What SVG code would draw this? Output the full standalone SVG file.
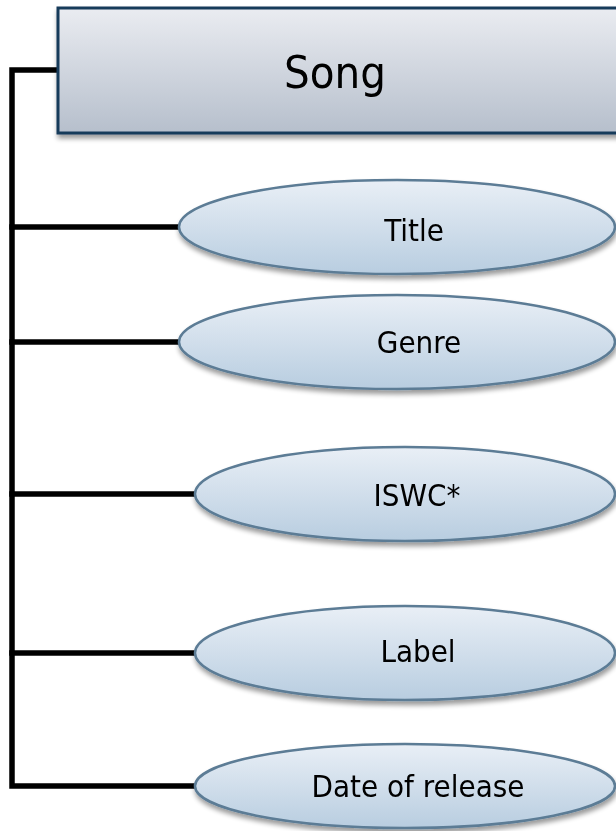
<svg xmlns="http://www.w3.org/2000/svg" width="616" height="831" viewBox="0 0 616 831">
  <defs>
    <linearGradient id="boxFill" x1="0" y1="0" x2="0" y2="1">
      <stop offset="0" stop-color="#eaecf1"/>
      <stop offset="1" stop-color="#b6bfcc"/>
    </linearGradient>
    <linearGradient id="attrFill" x1="0" y1="0" x2="0" y2="1">
      <stop offset="0" stop-color="#e9eff6"/>
      <stop offset="1" stop-color="#b8cde0"/>
    </linearGradient>
    <filter id="shadow" x="-10%" y="-20%" width="120%" height="150%">
      <feGaussianBlur in="SourceAlpha" stdDeviation="2.5"/>
      <feOffset dx="1" dy="4" result="b"/>
      <feComponentTransfer><feFuncA type="linear" slope="0.4"/></feComponentTransfer>
      <feMerge><feMergeNode/><feMergeNode in="SourceGraphic"/></feMerge>
    </filter>
  </defs>
  <style>
    .entity { fill: url(#boxFill); stroke: #183b5a; stroke-width: 3; }
    .attr { fill: url(#attrFill); stroke: #5b7b95; stroke-width: 2.5; }
    .link { fill: none; stroke: #000; stroke-width: 5.5; stroke-linecap: square; }
    text { font-family: "DejaVu Sans Condensed", "DejaVu Sans", sans-serif; font-stretch: condensed; fill: #000; text-anchor: middle; dominant-baseline: central; }
    .big { font-size: 45px; }
    .lbl { font-size: 31px; }
  </style>

  <rect width="616" height="831" fill="#fff"/>

  <!-- connectors: one trunk down the left, with a branch to each attribute -->
  <g id="connectors">
    <polyline class="link" points="58,70 12,70 12,786 196,786"/>
    <line class="link" x1="12" y1="227" x2="180" y2="227"/>
    <line class="link" x1="12" y1="342" x2="180" y2="342"/>
    <line class="link" x1="12" y1="494" x2="196" y2="494"/>
    <line class="link" x1="12" y1="653" x2="196" y2="653"/>
  </g>

  <g id="song" filter="url(#shadow)">
    <rect class="entity" x="58" y="8" width="570" height="125"/>
    <text class="big" x="335" y="72">Song</text>
  </g>

  <g id="title" filter="url(#shadow)">
    <ellipse class="attr" cx="397" cy="227" rx="218" ry="47"/>
    <text class="lbl" x="414" y="230">Title</text>
  </g>

  <g id="genre" filter="url(#shadow)">
    <ellipse class="attr" cx="397" cy="342" rx="218" ry="47"/>
    <text class="lbl" x="419" y="342">Genre</text>
  </g>

  <g id="iswc" filter="url(#shadow)">
    <ellipse class="attr" cx="405" cy="494" rx="210" ry="47"/>
    <text class="lbl" x="417" y="495">ISWC*</text>
  </g>

  <g id="label" filter="url(#shadow)">
    <ellipse class="attr" cx="405" cy="653" rx="210" ry="47"/>
    <text class="lbl" x="418" y="651">Label</text>
  </g>

  <g id="release" filter="url(#shadow)">
    <ellipse class="attr" cx="405" cy="786" rx="210" ry="42"/>
    <text class="lbl" x="418" y="786">Date of release</text>
  </g>
</svg>
